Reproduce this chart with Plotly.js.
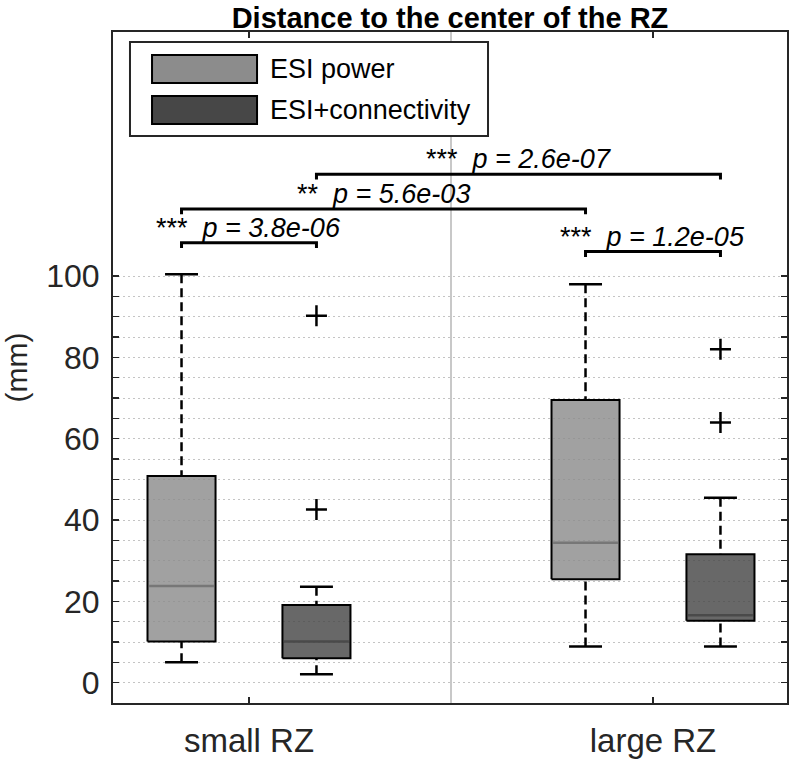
<!DOCTYPE html>
<html>
<head>
<meta charset="utf-8">
<script src="https://cdn.plot.ly/plotly-3.0.1.min.js"></script>
<style>html,body{margin:0;padding:0;background:#fff;}#chart{width:792px;height:762px;}</style>
</head>
<body>
<div id="chart"></div>
<script>
// ---- data ----
const categories = ['small RZ', 'large RZ'];
const groups = ['ESI power', 'ESI+connectivity'];

const powerLow    = [5.0, 8.9];
const powerQ1     = [10.1, 25.4];
const powerMedian = [23.8, 34.4];
const powerQ3     = [50.8, 69.5];
const powerHigh   = [100.4, 98.0];
const powerOutliers = [[], []];

const connLow    = [2.1, 8.9];
const connQ1     = [6.0, 15.2];
const connMedian = [10.1, 16.6];
const connQ3     = [19.1, 31.6];
const connHigh   = [23.6, 45.5];
const connOutliers = [[42.6, 90.2], [64.0, 82.0]];

// significance comparisons: [categoryIndex, groupIndex]
const sigFrom  = [[0, 0], [0, 0], [0, 1], [1, 0]];
const sigTo    = [[0, 1], [1, 0], [1, 1], [1, 1]];
const sigStars = ['***', '**', '***', '***'];
const sigP     = ['3.8e-06', '5.6e-03', '2.6e-07', '1.2e-05'];
const sigLevel = [108.2, 116.5, 125.0, 106.0];

const yTickVals = [0,5,10,15,20,25,30,35,40,45,50,55,60,65,70,75,80,85,90,95,100];
const yTickText = yTickVals.map(v => (v % 20 === 0 ? String(v) : ''));

// ---- styling ----
const fills   = ['rgba(140,140,140,0.82)', 'rgba(71,71,71,0.82)'];
const solids  = ['rgb(140,140,140)', 'rgb(71,71,71)'];
const medCols = ['#777777', '#4a4a4a'];
const axisCol = '#262626';
const FONT = 'Arial, "Liberation Sans", Helvetica, sans-serif';
const groupOffset = 0.167, boxHalf = 0.0842, capHalf = 0.0408;

function pos(c, g) { return (c + 1) + (g === 0 ? -groupOffset : groupOffset); }

const stats = [
  {low: powerLow, q1: powerQ1, med: powerMedian, q3: powerQ3, high: powerHigh, out: powerOutliers},
  {low: connLow,  q1: connQ1,  med: connMedian,  q3: connQ3,  high: connHigh,  out: connOutliers}
];

const traces = [];
stats.forEach((s, g) => {
  const bx = [], by = [];
  const mx = [], my = [];
  const wx = [], wy = [];
  const cx = [], cy = [];
  const ox = [], oy = [];
  categories.forEach((cat, c) => {
    const p = pos(c, g);
    bx.push(p - boxHalf, p + boxHalf, p + boxHalf, p - boxHalf, p - boxHalf, null);
    by.push(s.q1[c], s.q1[c], s.q3[c], s.q3[c], s.q1[c], null);
    mx.push(p - boxHalf + 0.004, p + boxHalf - 0.004, null);
    my.push(s.med[c], s.med[c], null);
    wx.push(p, p, null, p, p, null);
    wy.push(s.high[c], s.q3[c], null, s.low[c], s.q1[c], null);
    cx.push(p - capHalf, p + capHalf, null, p - capHalf, p + capHalf, null);
    cy.push(s.high[c], s.high[c], null, s.low[c], s.low[c], null);
    s.out[c].forEach(v => { ox.push(p); oy.push(v); });
  });
  traces.push({x: wx, y: wy, mode: 'lines', line: {color: '#000', width: 2.5, dash: '9px,5px'}, hoverinfo: 'skip', showlegend: false});
  traces.push({x: cx, y: cy, mode: 'lines', line: {color: '#000', width: 2.5}, hoverinfo: 'skip', showlegend: false});
  traces.push({x: bx, y: by, mode: 'lines', fill: 'toself', fillcolor: fills[g], line: {color: '#000', width: 2}, hoverinfo: 'skip', showlegend: false, name: groups[g]});
  traces.push({x: mx, y: my, mode: 'lines', line: {color: medCols[g], width: 2.5}, hoverinfo: 'skip', showlegend: false});
  if (ox.length) traces.push({x: ox, y: oy, mode: 'markers', marker: {symbol: 'cross-thin', size: 15, line: {color: '#000', width: 2.5}}, hoverinfo: 'skip', showlegend: false});
});

// significance brackets
const sx = [], sy = [];
const annotations = [];
sigLevel.forEach((lvl, i) => {
  const x0 = pos(sigFrom[i][0], sigFrom[i][1]);
  const x1 = pos(sigTo[i][0], sigTo[i][1]);
  const drop = 1.3;
  sx.push(x0, x0, x1, x1, null);
  sy.push(lvl - drop, lvl, lvl, lvl - drop, null);
  annotations.push({
    x: (x0 + x1) / 2, y: lvl, xref: 'x', yref: 'y', xanchor: 'center', yanchor: 'bottom',
    text: sigStars[i] + '&nbsp;&nbsp;<i>p = ' + sigP[i] + '</i>', showarrow: false,
    font: {family: FONT, size: 27, color: '#000'}, yshift: -2
  });
});
traces.push({x: sx, y: sy, mode: 'lines', line: {color: '#000', width: 3}, hoverinfo: 'skip', showlegend: false});

// custom legend (paper coordinates)
const shapes = [
  {type: 'line', xref: 'x', yref: 'paper', x0: 1.5, x1: 1.5, y0: 0, y1: 1, line: {color: '#c8c8c8', width: 2}, layer: 'below'},
  {type: 'rect', xref: 'paper', yref: 'paper', x0: 0.0252, x1: 0.5564, y0: 0.8450, y1: 0.9851, fillcolor: '#fff', line: {color: axisCol, width: 2}, layer: 'above'},
  {type: 'rect', xref: 'paper', yref: 'paper', x0: 0.0579, x1: 0.2137, y0: 0.9240, y1: 0.9657, fillcolor: solids[0], line: {color: '#000', width: 2}, layer: 'above'},
  {type: 'rect', xref: 'paper', yref: 'paper', x0: 0.0579, x1: 0.2137, y0: 0.8629, y1: 0.9046, fillcolor: solids[1], line: {color: '#000', width: 2}, layer: 'above'}
];
annotations.push({xref: 'paper', yref: 'paper', x: 0.2300, y: 0.9449, xanchor: 'left', yanchor: 'middle', text: groups[0], showarrow: false, font: {family: FONT, size: 27, color: '#000'}});
annotations.push({xref: 'paper', yref: 'paper', x: 0.2300, y: 0.8838, xanchor: 'left', yanchor: 'middle', text: groups[1], showarrow: false, font: {family: FONT, size: 27, color: '#000'}});

const layout = {
  width: 792, height: 762,
  margin: {l: 113, r: 5, t: 32, b: 59, pad: 0},
  paper_bgcolor: '#fff', plot_bgcolor: '#fff',
  font: {family: FONT, color: axisCol},
  title: {text: 'Distance to the center of the RZ', font: {family: FONT, size: 29, color: '#000', weight: 700},
          x: 0.5, xref: 'paper', xanchor: 'center', y: 0.977, yref: 'container', yanchor: 'middle'},
  xaxis: {
    range: [0.6634, 2.3317], tickvals: [1, 2], ticktext: categories,
    ticks: 'inside', ticklen: 6, tickwidth: 1.5, tickcolor: axisCol,
    showline: true, linecolor: axisCol, linewidth: 2, mirror: 'ticks',
    showgrid: false, zeroline: false, tickfont: {size: 33, color: axisCol},
    ticklabelstandoff: 7, fixedrange: true
  },
  yaxis: {
    range: [-5, 160], tickvals: yTickVals, ticktext: yTickText,
    ticks: 'inside', ticklen: 6, tickwidth: 1.5, tickcolor: axisCol,
    showline: true, linecolor: axisCol, linewidth: 2, mirror: 'ticks',
    showgrid: true, gridcolor: '#c4c4c4', gridwidth: 1, griddash: '2px,3px',
    zeroline: false, tickfont: {size: 32, color: axisCol}, ticklabelstandoff: 5,
    title: {text: '(mm)', font: {size: 30, color: axisCol}, standoff: 14}, fixedrange: true
  },
  shapes: shapes,
  annotations: annotations,
  showlegend: false
};

Plotly.newPlot('chart', traces, layout, {displayModeBar: false, staticPlot: true});
</script>
</body>
</html>
